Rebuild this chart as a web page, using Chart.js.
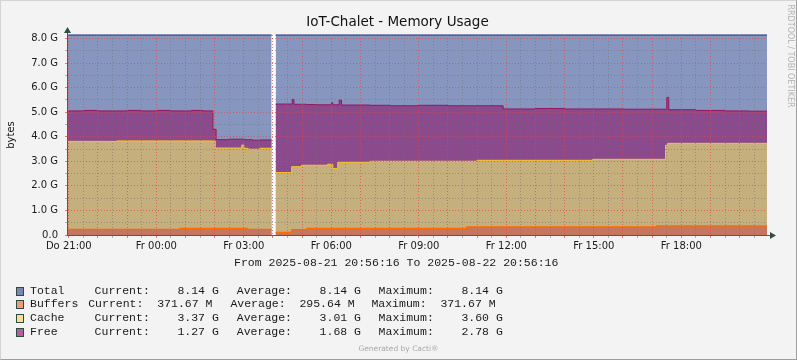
<!DOCTYPE html>
<html>
<head>
<meta charset="utf-8">
<script src="https://cdn.jsdelivr.net/npm/chart.js@4.4.1/dist/chart.umd.min.js"></script>
<style>
  html, body { margin: 0; padding: 0; background: #f3f3f3; }
  #wrap { position: relative; width: 797px; height: 360px; background: #f3f3f3; overflow: hidden; }
  #c { position: absolute; left: 0; top: 0; }
  #frame { position: absolute; left: 0; top: 0; width: 797px; height: 360px; box-sizing: border-box;
           border-top: 1px solid #d4d4d4; border-left: 1px solid #d4d4d4;
           border-right: 1px solid #9e9e9e; border-bottom: 1px solid #9e9e9e; pointer-events: none; }
  .txt { position: absolute; white-space: pre; }
  .sans { font-family: "DejaVu Sans", sans-serif; }
  .mono { font-family: "Liberation Mono", "DejaVu Sans Mono", monospace; font-size: 11.5px; line-height: 14px; color: #1a1a1a; }
  .sw { position: absolute; left: 16px; width: 6px; height: 7px; border: 1px solid #2e4a42; }
</style>
</head>
<body>
<div id="wrap">
  <canvas id="c" width="797" height="360"></canvas>
  <div class="txt sans" style="left:0;width:795px;text-align:center;top:14px;font-size:13.5px;line-height:14px;color:#111;">IoT-Chalet - Memory Usage</div>
  <div class="txt sans" style="left:-9px;top:129px;width:40px;text-align:center;font-size:10px;line-height:12px;color:#111;transform:rotate(-90deg);">bytes</div>
  <div class="txt sans" style="left:738px;top:51px;width:104px;text-align:center;font-size:8px;line-height:10px;color:#b4b4b4;transform:rotate(90deg);">RRDTOOL / TOBI OETIKER</div>
  <div class="txt mono" style="left:234px;top:256px;">From 2025-08-21 20:56:16 To 2025-08-22 20:56:16</div>
  <div id="legend"></div>
  <div class="txt sans" style="left:0;width:797px;text-align:center;top:344px;font-size:7.5px;line-height:10px;color:#a8a8a8;">Generated by Cacti®</div>
  <div id="frame"></div>
</div>
<script>
// time axis: hours after Do 21:00 (graph runs 20:56:16 .. 20:56:16 next day)
const tMin = -0.0622;
const tMax = 23.9378;

// shared sample times for the stacked series (hours after 21:00)
const times = [
  -0.0622, 0.5, 1.0, 1.64, 2.0, 2.5, 3.0, 3.5, 3.81, 4.2, 4.6, 4.94, 5.02, 5.05, 5.5, 5.93, 6.0, 6.13, 6.15, 6.3, 6.55, 6.955,
  6.96,
  7.09, 7.64, 7.66, 7.72, 7.98, 8.16, 8.5, 8.87, 9.01, 9.05, 9.22, 9.27, 9.35, 10.33, 11.0, 12.0, 13.0, 13.64, 14.0, 14.89,
  16.0, 17.0, 17.96, 19.0, 20.16, 20.46, 20.50, 20.53, 20.57, 21.5, 22.5, 23.3, 23.9378
];

// values in G
const buffers = [
  0.23, 0.23, 0.23, 0.23, 0.23, 0.23, 0.23, 0.23, 0.27, 0.27, 0.27, 0.27, 0.27, 0.27, 0.27, 0.27, 0.27, 0.23, 0.23, 0.23, 0.23, 0.23,
  null,
  0.11, 0.22, 0.22, 0.22, 0.22, 0.27, 0.27, 0.27, 0.27, 0.27, 0.27, 0.27, 0.27, 0.27, 0.27, 0.27, 0.27, 0.33, 0.33, 0.33,
  0.33, 0.33, 0.33, 0.33, 0.37, 0.37, 0.37, 0.37, 0.37, 0.37, 0.37, 0.37, 0.37
];
const cache = [
  3.58, 3.58, 3.58, 3.60, 3.60, 3.60, 3.60, 3.60, 3.56, 3.56, 3.56, 3.56, 3.27, 3.27, 3.27, 3.39, 3.26, 3.30, 3.26, 3.26, 3.30, 3.30,
  null,
  2.43, 2.56, 2.56, 2.56, 2.62, 2.57, 2.57, 2.61, 2.61, 2.44, 2.69, 2.69, 2.69, 2.73, 2.73, 2.73, 2.73, 2.67, 2.71, 2.71,
  2.71, 2.71, 2.75, 2.75, 2.71, 3.28, 3.28, 3.36, 3.36, 3.36, 3.36, 3.36, 3.36
];
const free = [
  1.24, 1.26, 1.24, 1.22, 1.24, 1.22, 1.24, 1.22, 1.22, 1.24, 1.22, 0.47, 0.76, 0.34, 0.36, 0.24, 0.35, 0.35, 0.39, 0.37, 0.34, 0.34,
  null,
  2.79, 2.55, 2.74, 2.54, 2.48, 2.47, 2.46, 2.42, 2.50, 2.59, 2.34, 2.53, 2.33, 2.28, 2.26, 2.28, 2.26, 2.26, 2.22, 2.09,
  2.11, 2.09, 2.05, 2.04, 2.04, 1.47, 1.95, 1.87, 1.37, 1.34, 1.32, 1.31, 1.31
];

const totalTimes = [-0.0622, 6.955, 6.96, 7.09, 23.9378];
const total = [8.14, 8.14, null, 8.14, 8.14];

// grid / tick positions
const xTicks = [];
for (let h = 0; h <= 23.5; h += 0.5) xTicks.push(h);
const xLabels = { 0: 'Do 21:00', 3: 'Fr 00:00', 6: 'Fr 03:00', 9: 'Fr 06:00', 12: 'Fr 09:00', 15: 'Fr 12:00', 18: 'Fr 15:00', 21: 'Fr 18:00' };
const yTicks = [0, 0.5, 1, 1.5, 2, 2.5, 3, 3.5, 4, 4.5, 5, 5.5, 6, 6.5, 7, 7.5, 8];

const legendRows = [
  { name: 'Total',   swatch: '#7888ae', cur: '   8.14 G', avg: '   8.14 G', max: '   8.14 G', wide: false },
  { name: 'Buffers', swatch: '#f29a70', cur: ' 371.67 M', avg: ' 295.64 M', max: ' 371.67 M', wide: true },
  { name: 'Cache',   swatch: '#f9e08e', cur: '   3.37 G', avg: '   3.01 G', max: '   3.60 G', wide: false },
  { name: 'Free',    swatch: '#b5609a', cur: '   1.27 G', avg: '   1.68 G', max: '   2.78 G', wide: false }
];

const pts = (xs, ys) => xs.map((x, i) => ({ x: x, y: ys[i] }));

const MAJOR = 'rgba(230, 70, 70, 0.7)';
const MINOR = 'rgba(110, 110, 110, 0.5)';
const AXIS = '#46605a';

// legend (plain text rows)
const legendEl = document.getElementById('legend');
const rowTop = [284, 297, 311, 325];
legendRows.forEach((r, i) => {
  const top = rowTop[i];
  const pos = r.wide ? [88.2, 230.4, 371.4] : [94.6, 236.8, 378.6];
  legendEl.insertAdjacentHTML('beforeend',
    `<div class="sw" style="top:${top + 3}px;background:${r.swatch}"></div>` +
    `<div class="txt mono" style="left:30px;top:${top}px">${r.name}</div>` +
    `<div class="txt mono" style="left:${pos[0]}px;top:${top}px">Current: ${r.cur}</div>` +
    `<div class="txt mono" style="left:${pos[1]}px;top:${top}px">Average: ${r.avg}</div>` +
    `<div class="txt mono" style="left:${pos[2]}px;top:${top}px">Maximum: ${r.max}</div>`);
});

const canvasBg = {
  id: 'canvasBg',
  beforeDatasetsDraw(chart) {
    const { ctx, chartArea: a } = chart;
    ctx.save();
    ctx.fillStyle = '#ffffff';
    ctx.fillRect(a.left, a.top, a.right - a.left, a.bottom - a.top);
    ctx.restore();
  }
};

const arrows = {
  id: 'arrows',
  afterDraw(chart) {
    const { ctx, chartArea: a } = chart;
    ctx.save();
    ctx.strokeStyle = AXIS;
    ctx.fillStyle = '#2f4f45';
    ctx.lineWidth = 1;
    ctx.beginPath();
    ctx.moveTo(a.left + 0.5, a.top);
    ctx.lineTo(a.left + 0.5, a.top - 4);
    ctx.moveTo(a.right, a.bottom + 0.5);
    ctx.lineTo(a.right + 3, a.bottom + 0.5);
    ctx.stroke();
    ctx.beginPath();
    ctx.moveTo(a.left + 0.5, a.top - 8);
    ctx.lineTo(a.left - 3, a.top - 2);
    ctx.lineTo(a.left + 4, a.top - 2);
    ctx.closePath();
    ctx.fill();
    ctx.beginPath();
    ctx.moveTo(a.right + 9, a.bottom + 0.5);
    ctx.lineTo(a.right + 3, a.bottom - 3);
    ctx.lineTo(a.right + 3, a.bottom + 4);
    ctx.closePath();
    ctx.fill();
    ctx.restore();
  }
};

const gridColor = (ctx) => (ctx.tick && ctx.tick.value % 1 === 0) ? MAJOR : MINOR;

new Chart(document.getElementById('c'), {
  type: 'line',
  data: {
    datasets: [{
      label: 'Buffers',
      data: pts(times, buffers),
      stack: 'mem',
      borderColor: '#ff6a00',
      backgroundColor: '#c6765e',
      borderWidth: 1.2,
      fill: 'origin'
    }, {
      label: 'Cache',
      data: pts(times, cache),
      stack: 'mem',
      borderColor: '#ffc125',
      backgroundColor: '#c4af7d',
      borderWidth: 1,
      fill: '-1'
    }, {
      label: 'Free',
      data: pts(times, free),
      stack: 'mem',
      borderColor: '#951660',
      backgroundColor: '#8b4a8c',
      borderWidth: 1,
      fill: '-1'
    }, {
      label: 'Total',
      data: pts(totalTimes, total),
      stack: 'tot',
      borderColor: '#1f2a6e',
      backgroundColor: '#8696be',
      borderWidth: 1,
      fill: 'origin',
      clip: { left: 0, top: 2, right: 0, bottom: 0 }
    }]
  },
  options: {
    responsive: false,
    animation: false,
    devicePixelRatio: 1,
    spanGaps: false,
    elements: {
      point: { radius: 0 },
      line: { stepped: true, tension: 0 }
    },
    layout: { padding: { left: 0, right: 30, top: 35, bottom: 0 } },
    plugins: {
      legend: { display: false },
      tooltip: { enabled: false },
      title: { display: false }
    },
    scales: {
      x: {
        type: 'linear',
        min: tMin,
        max: tMax,
        afterFit: (s) => { s.height = 125; },
        afterBuildTicks: (s) => { s.ticks = xTicks.map(v => ({ value: v })); },
        ticks: {
          autoSkip: false,
          maxRotation: 0,
          padding: 2,
          color: '#1a1a1a',
          font: { family: 'DejaVu Sans', size: 10 },
          callback: (v) => xLabels[v] || ''
        },
        grid: {
          z: 1,
          lineWidth: 1,
          tickLength: 3,
          color: gridColor,
          tickColor: gridColor
        },
        border: { z: 2, display: true, color: AXIS, width: 1, dash: [1, 2] }
      },
      y: {
        type: 'linear',
        stacked: true,
        min: 0,
        max: 8.14,
        afterFit: (s) => { s.width = 67; },
        afterBuildTicks: (s) => { s.ticks = yTicks.map(v => ({ value: v })); },
        ticks: {
          autoSkip: false,
          padding: 7,
          color: '#1a1a1a',
          font: { family: 'DejaVu Sans', size: 10 },
          callback: (v) => v % 1 !== 0 ? '' : (v === 0 ? '0.0' : v.toFixed(1) + ' G')
        },
        grid: {
          z: 1,
          lineWidth: 1,
          tickLength: 2,
          color: gridColor,
          tickColor: gridColor
        },
        border: { z: 2, display: true, color: AXIS, width: 1, dash: [1, 2] }
      }
    }
  },
  plugins: [canvasBg, arrows]
});
</script>
</body>
</html>
